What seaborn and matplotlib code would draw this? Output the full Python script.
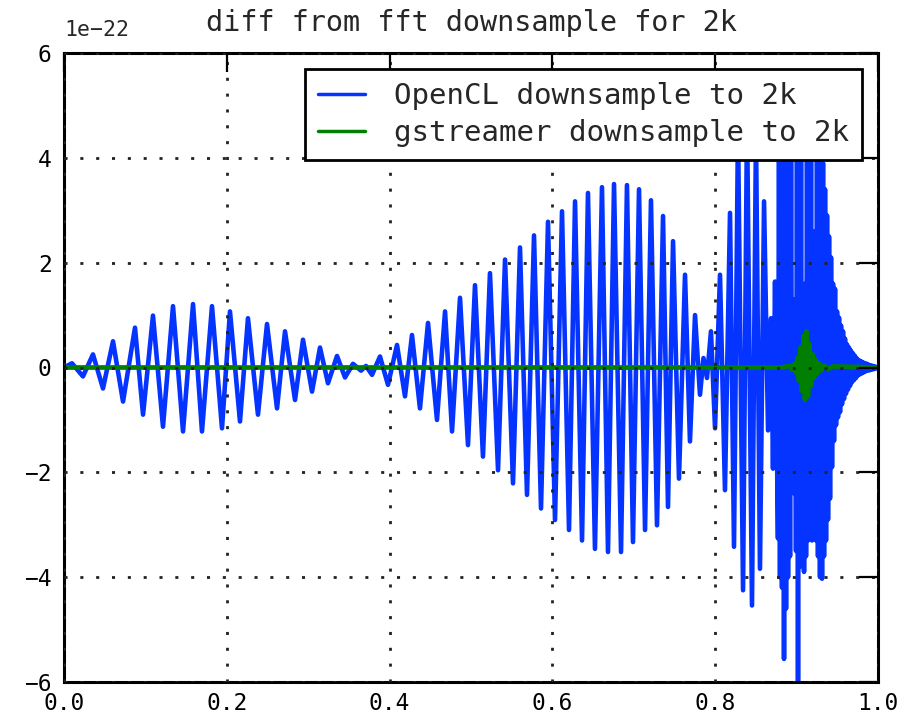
import numpy as np
import pandas as pd
import matplotlib
matplotlib.use("Agg")
import matplotlib.pyplot as plt
import seaborn as sns

# Residuals are stored in units of 1e-22
SCALE = 1e-22

# OpenCL residual, part 1: successive extrema of the oscillation up to ~0.875
opencl_x = [
    0.0, 0.0098, 0.0233, 0.0356, 0.0479, 0.0602, 0.0725, 0.0872, 0.0971, 0.1093,
    0.1216, 0.1339, 0.1462, 0.1585, 0.1695, 0.1818, 0.1941, 0.2039, 0.2162, 0.2260,
    0.2383, 0.2494, 0.2617, 0.2715, 0.2838, 0.2936, 0.3047, 0.3145, 0.3243, 0.3354,
    0.3452, 0.3550, 0.3649, 0.3710, 0.3784, 0.3882, 0.3980, 0.4091, 0.4189, 0.4275,
    0.4373, 0.4472, 0.4582, 0.4681, 0.4767, 0.4865, 0.4963, 0.5049, 0.5147, 0.5233,
    0.5332, 0.5418, 0.5516, 0.5602, 0.5688, 0.5774, 0.5860, 0.5946, 0.6032, 0.6118,
    0.6204, 0.6278, 0.6364, 0.6437, 0.6523, 0.6609, 0.6683, 0.6757, 0.6843, 0.6916,
    0.6990, 0.7064, 0.7138, 0.7211, 0.7285, 0.7359, 0.7420, 0.7482, 0.7555, 0.7629,
    0.7690, 0.7752, 0.7813, 0.7856, 0.7899, 0.7948, 0.7998, 0.8059, 0.8120, 0.8182,
    0.8231, 0.8280, 0.8342, 0.8391, 0.8452, 0.8501, 0.8550, 0.8600, 0.8649, 0.8686,
    0.8710, 0.8735, 0.8771,
]
opencl_y = [
    0.0, 0.08, -0.17, 0.25, -0.40, 0.50, -0.65, 0.76, -0.90, 0.99,
    -1.13, 1.17, -1.22, 1.21, -1.22, 1.17, -1.16, 1.07, -1.03, 0.94,
    -0.90, 0.83, -0.78, 0.69, -0.62, 0.53, -0.46, 0.38, -0.30, 0.22,
    -0.19, 0.07, -0.06, 0.03, -0.14, 0.21, -0.33, 0.43, -0.55, 0.62,
    -0.78, 0.85, -1.00, 1.07, -1.22, 1.33, -1.48, 1.57, -1.70, 1.80,
    -1.96, 2.06, -2.21, 2.29, -2.43, 2.52, -2.69, 2.78, -2.91, 2.98,
    -3.10, 3.17, -3.30, 3.33, -3.46, 3.44, -3.52, 3.50, -3.52, 3.48,
    -3.33, 3.40, -3.10, 3.19, -3.01, 2.89, -2.66, 2.41, -2.12, 1.77,
    -1.41, 1.00, -0.52, 0.18, -0.20, 0.69, -1.16, 1.77, -2.34, 2.95,
    -3.42, 4.60, -4.25, 4.80, -4.54, 4.50, -3.84, 3.17, -1.20, 0.94,
    -1.93, 1.64, -3.26,
]

# OpenCL residual, part 2: per-sample values of the dense tail, 0.8784 .. 1.0
tail_start, tail_end = 0.8784, 1.0
tail_y = [
    4.5, -4.0, 4.6, -4.2, 4.4, -5.56, 4.8, -4.6, 4.5, -4.0,
    4.7, -3.6, 4.5, -2.2, 1.2, -2.4, 1.3, -3.5, 4.5, -6.5,
    4.6, -3.8, 4.5, -3.5, 1.5, -3.9, 1.6, -3.6, 4.4, -3.3,
    4.5, -3.0, 4.4, -3.3, 2.5, -3.0, 2.6, -3.3, 4.4, -3.6,
    4.4, -4.0, 4.2, -4.03, 3.9, -3.6, 3.4, -3.3, 2.9, -2.9,
    2.5, -2.5, 2.1, -1.9, 1.6, -1.4, 1.5, -1.1, 1.07, -0.95,
    0.95, -0.85, 0.8, -0.7, 0.69, -0.6, 0.55, -0.5, 0.44, -0.42,
    0.38, -0.35, 0.32, -0.28, 0.27, -0.24, 0.22, -0.2, 0.17, -0.15,
    0.14, -0.13, 0.12, -0.11, 0.1, -0.09, 0.08, -0.07, 0.07, -0.06,
    0.05, -0.05, 0.04, -0.04, 0.03, -0.03, 0.02, -0.02, 0.01, 0.0,
]

# gstreamer residual: flat except for a short burst near 0.91
gst_x = [
    0.0, 0.8800, 0.8919, 0.8943, 0.8968, 0.8993, 0.9011, 0.9029, 0.9048, 0.9066,
    0.9085, 0.9103, 0.9121, 0.9140, 0.9158, 0.9177, 0.9195, 0.9214, 0.9232, 0.9251,
    0.9275, 0.9300, 0.9337, 0.9386, 0.9447, 1.0,
]
gst_y = [
    0.0, 0.0, 0.03, -0.04, 0.06, -0.10, 0.18, -0.25, 0.38, -0.45,
    0.60, -0.62, 0.69, -0.55, 0.45, -0.35, 0.25, -0.20, 0.15, -0.12,
    0.08, -0.06, 0.04, -0.03, 0.02, 0.0,
]

x_ticks = [0.0, 0.2, 0.4, 0.6, 0.8, 1.0]
y_ticks = [-6, -4, -2, 0, 2, 4, 6]

sns.set_style("white")
plt.rcParams["font.family"] = ["DejaVu Sans Mono", "DejaVu Sans"]

fig = plt.figure(figsize=(9, 7.23), dpi=100)
ax = fig.add_axes([64 / 900, 1 - 682 / 723, 814 / 900, (682 - 53) / 723])

all_x = list(opencl_x) + list(np.linspace(tail_start, tail_end, len(tail_y)))
all_y = list(opencl_y) + list(tail_y)
opencl = pd.DataFrame({"x": all_x, "y": np.array(all_y) * SCALE})
gst = pd.DataFrame({"x": gst_x, "y": np.array(gst_y) * SCALE})

sns.lineplot(data=opencl, x="x", y="y", color="#0533ff", linewidth=3.3,
             sort=False, estimator=None, label="OpenCL downsample to 2k", ax=ax)
sns.lineplot(data=gst, x="x", y="y", color="#007f00", linewidth=3.4,
             sort=False, estimator=None, label="gstreamer downsample to 2k", ax=ax)

ax.set_xlim(0, 1)
ax.set_ylim(-6 * SCALE, 6 * SCALE)
ax.set_xticks(x_ticks)
ax.set_yticks(np.array(y_ticks) * SCALE)
ax.set_xlabel("")
ax.set_ylabel("")

ax.set_axisbelow(False)
ax.grid(True, color="#222222", linestyle=(0, (1.1, 4.6)), linewidth=2)

for s in ax.spines.values():
    s.set_linewidth(2.2)
    s.set_color("black")

ax.tick_params(direction="in", length=14, width=1.6, top=True, right=True,
               labelsize=16.5, colors="black")
ax.tick_params(axis="x", pad=7)
ax.tick_params(axis="y", pad=9)

# multiplier label sits a little above the frame
ax.yaxis.get_offset_text().set_visible(False)
ax.annotate("1e\u221222", xy=(0, 1), xycoords="axes fraction",
            xytext=(0, 9), textcoords="offset points",
            ha="left", va="bottom", fontsize=15.5)

ax.set_title("diff from fft downsample for 2k", fontsize=20.5, pad=16)

leg = ax.legend(loc="upper right", fontsize=21, frameon=True, fancybox=False,
                edgecolor="black", framealpha=1, handlelength=1.6,
                handletextpad=1.0, borderpad=0.45, labelspacing=0.3,
                borderaxespad=0.55)
leg.get_frame().set_linewidth(2)
for line in leg.get_lines():
    line.set_linewidth(2.5)

fig.savefig("out.png", dpi=100)
